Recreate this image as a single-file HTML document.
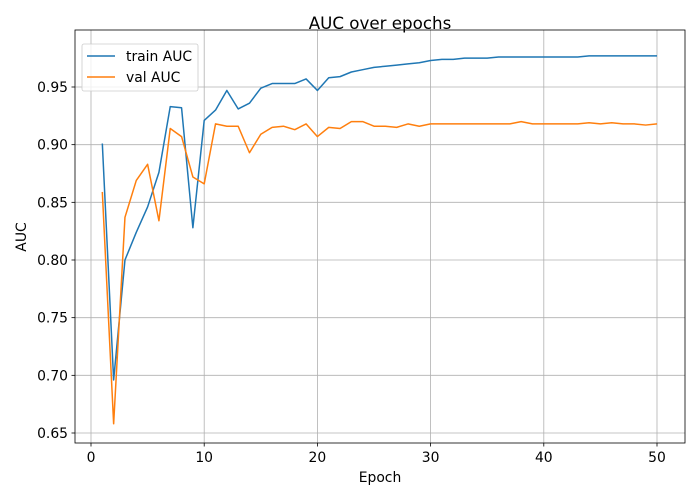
<!DOCTYPE html>
<html><head><meta charset="utf-8"><style>
body{margin:0;background:#fff;font-family:"DejaVu Sans","Liberation Sans",sans-serif;}
svg text{font-family:"DejaVu Sans","Liberation Sans",sans-serif;fill:#000;}
</style></head><body>
<svg id="chart" width="700" height="500"></svg>
<script>
const epochs=[];for(let i=1;i<=50;i++)epochs.push(i);
const trainAUC=[0.901,0.696,0.800,0.824,0.846,0.876,0.933,0.932,0.828,0.921,0.930,0.947,0.931,0.936,0.949,0.953,0.953,0.953,0.957,0.947,0.958,0.959,0.963,0.965,0.967,0.968,0.969,0.970,0.971,0.973,0.974,0.974,0.975,0.975,0.975,0.976,0.976,0.976,0.976,0.976,0.976,0.976,0.976,0.977,0.977,0.977,0.977,0.977,0.977,0.977];
const valAUC=[0.859,0.658,0.837,0.869,0.883,0.834,0.914,0.907,0.872,0.866,0.918,0.916,0.916,0.893,0.909,0.915,0.916,0.913,0.918,0.907,0.915,0.914,0.920,0.920,0.916,0.916,0.915,0.918,0.916,0.918,0.918,0.918,0.918,0.918,0.918,0.918,0.918,0.920,0.918,0.918,0.918,0.918,0.918,0.919,0.918,0.919,0.918,0.918,0.917,0.918];
const xTicks=[0,10,20,30,40,50];
const yTicks=[0.65,0.70,0.75,0.80,0.85,0.90,0.95];
const L=75,R=685,T=30,B=443;
const xs=v=>91+(v-0)*(657-91)/50;
const ys=v=>433-(v-0.65)*346/0.3;
const svg=document.getElementById('chart');
const NS='http://www.w3.org/2000/svg';
function mk(tag,attrs,parent){const e=document.createElementNS(NS,tag);for(const k in attrs)e.setAttribute(k,attrs[k]);(parent||svg).appendChild(e);return e;}
const title=mk('text',{x:380,y:29,'text-anchor':'middle','font-size':'16.7'});title.textContent='AUC over epochs';


xTicks.forEach(t=>{
 const g=mk('line',{x1:xs(t),x2:xs(t),y1:T,y2:B,stroke:'#b0b0b0','stroke-width':0.8});
 
 
 mk('line',{x1:xs(t),x2:xs(t),y1:B,y2:B+3.5,stroke:'#000','stroke-width':0.8});
 const l=mk('text',{x:xs(t),y:B+19,'text-anchor':'middle','font-size':'13.9'});l.textContent=t;
 
 
});
yTicks.forEach(t=>{
 const g=mk('line',{x1:L,x2:R,y1:ys(t),y2:ys(t),stroke:'#b0b0b0','stroke-width':0.8});
 
 
 mk('line',{x1:L-3.5,x2:L,y1:ys(t),y2:ys(t),stroke:'#000','stroke-width':0.8});
 const l=mk('text',{x:L-7,y:ys(t)+5,'text-anchor':'end','font-size':'13.9'});l.textContent=t.toFixed(2);
 
 
});
function line(data,color,name){
 const p=mk('polyline',{points:data.map((v,i)=>xs(epochs[i])+','+ys(v)).join(' '),fill:'none',stroke:color,'stroke-width':1.5,'stroke-linejoin':'round'});
 
 
}
line(trainAUC,'#1f77b4','train-auc-line');
line(valAUC,'#ff7f0e','val-auc-line');
const frame=mk('rect',{x:L,y:T,width:R-L,height:B-T,fill:'none',stroke:'#000','stroke-width':0.8});


const xl=mk('text',{x:380,y:482,'text-anchor':'middle','font-size':'13.9'});xl.textContent='Epoch';


const yl=mk('text',{x:0,y:0,'text-anchor':'middle','font-size':'13.9',transform:'translate(26,237) rotate(-90)'});yl.textContent='AUC';


const lg=mk('g',{});


mk('rect',{x:82,y:44,width:116,height:47,rx:2,fill:'#fff','fill-opacity':0.8,stroke:'#ccc','stroke-width':0.8},lg);
[['train AUC','#1f77b4',56],['val AUC','#ff7f0e',77]].forEach(([n,c,y])=>{
 const e=mk('g',{},lg);
 
 
 mk('line',{x1:87,x2:115,y1:y,y2:y,stroke:c,'stroke-width':1.5},e);
 const t=mk('text',{x:126,y:y+5,'font-size':'13.9'},e);t.textContent=n;
});
</script>
</body></html>
